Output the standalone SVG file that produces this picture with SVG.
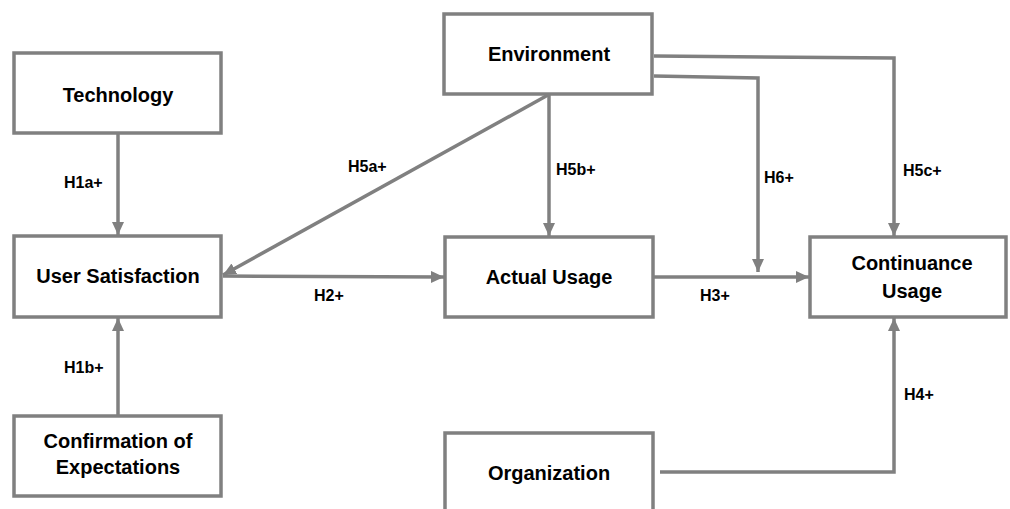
<svg xmlns="http://www.w3.org/2000/svg" width="1010" height="509" viewBox="0 0 1010 509">
<style>
.box{fill:#fff;stroke:#808080;stroke-width:3.5}
.t{font-family:"Liberation Sans",Arial,sans-serif;font-weight:bold;font-size:20px;fill:#000;text-anchor:middle}
.l{font-family:"Liberation Sans",Arial,sans-serif;font-weight:bold;font-size:16px;fill:#000}
.c{fill:none;stroke:#808080;stroke-width:3.5;marker-end:url(#ah)}
</style>
<defs>
<marker id="ah" markerWidth="13" markerHeight="12" refX="13" refY="6" orient="auto" markerUnits="userSpaceOnUse">
<path d="M0,0 L13,6 L0,12 Z" fill="#808080"/>
</marker>
</defs>
<rect width="1010" height="509" fill="#fff"/>
<g id="connectors">
<path class="c" d="M118,134 L118,235"/>
<path class="c" d="M118,415 L118,318"/>
<path class="c" d="M223,276 L444,277"/>
<path class="c" d="M548,95 L223,275"/>
<path class="c" d="M549,95 L549,236"/>
<path class="c" d="M654,76 L758,78 L758,272"/>
<path class="c" d="M654,56 L894,58 L894,236"/>
<path class="c" d="M654,277 L809,277"/>
<path class="c" d="M660,472 L894,472 L894,318"/>
<text class="l" x="64" y="188">H1a+</text>
<text class="l" x="64" y="373">H1b+</text>
<text class="l" x="314" y="301">H2+</text>
<text class="l" x="348" y="172">H5a+</text>
<text class="l" x="556" y="175">H5b+</text>
<text class="l" x="764" y="183">H6+</text>
<text class="l" x="903" y="176">H5c+</text>
<text class="l" x="700" y="301">H3+</text>
<text class="l" x="904" y="400">H4+</text>
</g>
<g id="technology"><rect class="box" x="14" y="53" width="207" height="80"/><text class="t" x="118" y="102">Technology</text></g>
<g id="user-satisfaction"><rect class="box" x="14" y="236" width="207" height="81"/><text class="t" x="118" y="283">User Satisfaction</text></g>
<g id="confirmation"><rect class="box" x="14" y="416" width="207" height="80"/><text class="t" x="118" y="448">Confirmation of</text><text class="t" x="118" y="474">Expectations</text></g>
<g id="environment"><rect class="box" x="444" y="14" width="208" height="80"/><text class="t" x="549" y="61">Environment</text></g>
<g id="actual-usage"><rect class="box" x="445" y="237" width="208" height="80"/><text class="t" x="549" y="284">Actual Usage</text></g>
<g id="continuance-usage"><rect class="box" x="810" y="237" width="196" height="80"/><text class="t" x="912" y="270">Continuance</text><text class="t" x="912" y="298">Usage</text></g>
<g id="organization"><rect class="box" x="445" y="433" width="208" height="90"/><text class="t" x="549" y="480">Organization</text></g>
</svg>
